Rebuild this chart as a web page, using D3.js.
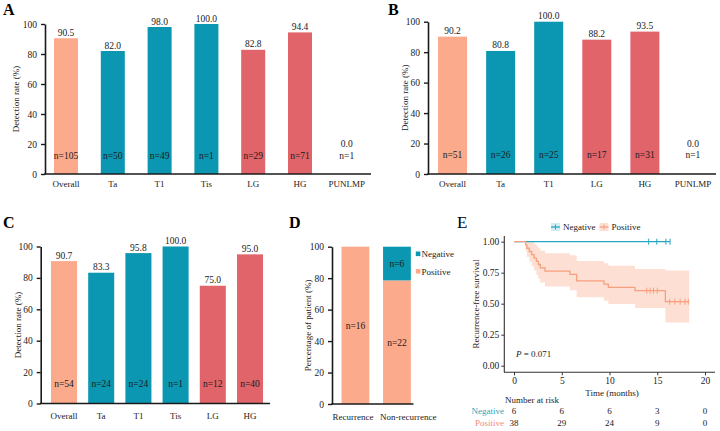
<!DOCTYPE html>
<html>
<head>
<meta charset="utf-8">
<script src="https://cdn.jsdelivr.net/npm/d3@7"></script>
<style>
  body { margin: 0; background: #fff; }
  svg { font-family: "Liberation Serif", "Times New Roman", serif; }
</style>
</head>
<body>
<svg id="fig" width="720" height="431"></svg>
<script>
// DATA
const catsA = ["Overall", "Ta", "T1", "Tis", "LG", "HG", "PUNLMP"];
const rateA = [90.5, 82.0, 98.0, 100.0, 82.8, 94.4, 0.0];
const nA = [105, 50, 49, 1, 29, 71, 1];

const catsB = ["Overall", "Ta", "T1", "LG", "HG", "PUNLMP"];
const rateB = [90.2, 80.8, 100.0, 88.2, 93.5, 0.0];
const nB = [51, 26, 25, 17, 31, 1];

const catsC = ["Overall", "Ta", "T1", "Tis", "LG", "HG"];
const rateC = [90.7, 83.3, 95.8, 100.0, 75.0, 95.0];
const nC = [54, 24, 24, 1, 12, 40];

const groupsD = ["Recurrence", "Non-recurrence"];
const posD = [16, 22];
const negD = [0, 6];

// KM, positive group
const kmTime = [0, 1.22, 1.35, 1.6, 1.85, 2.1, 2.35, 2.55, 2.75, 3.25, 5.86, 6.56, 9.42, 9.88, 12.67, 15.85];
const kmSurv = [1, 0.974, 0.947, 0.921, 0.895, 0.868, 0.842, 0.816, 0.789, 0.763, 0.737, 0.684, 0.658, 0.632, 0.605, 0.516];
const kmUpper = [1, 1, 1, 1, 0.998, 0.982, 0.966, 0.949, 0.93, 0.907, 0.891, 0.845, 0.827, 0.806, 0.779, 0.767];
const kmLower = [1, 0.924, 0.879, 0.839, 0.803, 0.767, 0.733, 0.702, 0.67, 0.638, 0.609, 0.553, 0.523, 0.497, 0.465, 0.348];
const kmEnd = 18.35;
const posCensor = [13.9, 14.25, 14.6, 15.0, 16.3, 16.85, 17.4, 17.9, 18.25];
const negEnd = 16.34;
const negCensor = [14.1, 14.95, 15.9, 16.34];

const riskTimes = [0, 5, 10, 15, 20];
const riskNeg = [6, 6, 6, 3, 0];
const riskPos = [38, 29, 24, 9, 0];

// COLOURS
const peach = "#FBAA8C", teal = "#0B97B1", red = "#E0646A";
const catColor = { Overall: peach, Ta: teal, T1: teal, Tis: teal, LG: red, HG: red, PUNLMP: red };
const kmTeal = "#27A7BE", kmSalmon = "#F6A07F", kmBand = "#FDDFD3";
const ink = "#1a1a1a";

const svg = d3.select("#fig");

function letter(txt, x, y, bold) {
  svg.append("text").attr("x", x).attr("y", y)
    .attr("font-size", bold ? 16 : 17)
    .attr("font-weight", bold ? "bold" : "normal")
    .attr("fill", "#000").text(txt);
}

// BAR PANEL (A, B, C)
function barPanel(o) {
  const y = d3.scaleLinear().domain([0, 100]).range([o.yBot, o.yTop]);
  const x = d3.scaleBand().domain(o.cats).range([o.bandL, o.bandR])
    .paddingInner(o.pad).paddingOuter(o.pad / 2);
  const g = svg.append("g");

  g.selectAll("rect.bar").data(o.cats).enter().append("rect")
    .attr("x", (d) => x(d))
    .attr("width", x.bandwidth())
    .attr("y", (d, i) => y(o.vals[i]))
    .attr("height", (d, i) => o.yBot - y(o.vals[i]))
    .attr("fill", (d) => catColor[d]);

  // value labels
  g.selectAll("text.val").data(o.cats).enter().append("text")
    .attr("x", (d) => x(d) + x.bandwidth() / 2)
    .attr("y", (d, i) => o.vals[i] > 0 ? y(o.vals[i]) - 2.5 : y(12.5) - 7.8)
    .attr("text-anchor", "middle").attr("font-size", 9.5).attr("fill", ink)
    .text((d, i) => o.vals[i].toFixed(1));

  // n labels
  g.selectAll("text.n").data(o.cats).enter().append("text")
    .attr("x", (d) => x(d) + x.bandwidth() / 2)
    .attr("y", y(12.5) + 3.3)
    .attr("text-anchor", "middle").attr("font-size", 9.5).attr("fill", ink)
    .text((d, i) => "n=" + o.ns[i]);

  // y axis
  const yAxis = d3.axisLeft(y).tickValues([0, 20, 40, 60, 80, 100])
    .tickSize(4).tickSizeOuter(0).tickPadding(4);
  const ya = g.append("g").attr("transform", "translate(" + o.x0 + ",0)").call(yAxis);
  ya.select(".domain").attr("stroke", ink).attr("stroke-width", 1.6);
  ya.selectAll(".tick line").attr("stroke", ink).attr("stroke-width", 1.4);
  ya.selectAll(".tick text").attr("font-size", 9.5).attr("fill", ink)
    .attr("font-family", "Liberation Serif");

  // x axis
  g.append("line").attr("x1", o.x0 - 0.8).attr("x2", o.xEnd)
    .attr("y1", o.yBot).attr("y2", o.yBot)
    .attr("stroke", ink).attr("stroke-width", 1.6);
  g.selectAll("text.cat").data(o.cats).enter().append("text")
    .attr("x", (d) => x(d) + x.bandwidth() / 2)
    .attr("y", o.yBot + o.labOff)
    .attr("text-anchor", "middle").attr("font-size", 9).attr("fill", ink)
    .text((d) => d);

  g.append("text")
    .attr("transform", "translate(" + o.titleX + "," + (o.yTop + o.yBot) / 2 + ") rotate(-90)")
    .attr("text-anchor", "middle").attr("font-size", 9).attr("fill", ink)
    .text(o.title);
}

barPanel({ cats: catsA, vals: rateA, ns: nA, x0: 45, xEnd: 371, yTop: 24, yBot: 174,
  bandL: 42.6, bandR: 370.2, pad: 0.487, labOff: 13, titleX: 19, title: "Detection rate (%)" });
barPanel({ cats: catsB, vals: rateB, ns: nB, x0: 428, xEnd: 716, yTop: 21.7, yBot: 174,
  bandL: 428.5, bandR: 717, pad: 0.397, labOff: 13, titleX: 408, title: "Detection rate (%)" });
barPanel({ cats: catsC, vals: rateC, ns: nC, x0: 40.7, xEnd: 270, yTop: 246.5, yBot: 403.5,
  bandL: 45.4, bandR: 268.6, pad: 0.30, labOff: 15, titleX: 21, title: "Detection rate (%)" });

letter("A", 3, 15, true);
letter("B", 388, 15, true);
letter("C", 3, 228, true);
letter("D", 289, 228, true);
letter("E", 457, 228, false);

// PANEL D - stacked percentage bars
(function () {
  const x0 = 332, yTop = 246.7, yBot = 404;
  const y = d3.scaleLinear().domain([0, 100]).range([yBot, yTop]);
  const x = d3.scaleBand().domain(groupsD).range([334.7, 417.7]).paddingInner(0.33).paddingOuter(0.165);
  const pct = groupsD.map((gname, i) => {
    const tot = posD[i] + negD[i];
    return { g: gname, pos: posD[i] / tot * 100, neg: negD[i] / tot * 100, np: posD[i], nn: negD[i] };
  });
  const g = svg.append("g");
  g.selectAll("rect.p").data(pct).enter().append("rect")
    .attr("x", (d) => x(d.g)).attr("width", x.bandwidth())
    .attr("y", (d) => y(d.pos)).attr("height", (d) => yBot - y(d.pos))
    .attr("fill", peach);
  g.selectAll("rect.ng").data(pct.filter((d) => d.neg > 0)).enter().append("rect")
    .attr("x", (d) => x(d.g)).attr("width", x.bandwidth())
    .attr("y", (d) => y(100)).attr("height", (d) => y(d.pos) - y(100))
    .attr("fill", teal);
  g.selectAll("text.p").data(pct).enter().append("text")
    .attr("x", (d) => x(d.g) + x.bandwidth() / 2)
    .attr("y", (d) => y(d.pos / 2) + 3.3)
    .attr("text-anchor", "middle").attr("font-size", 9.5).attr("fill", ink)
    .text((d) => "n=" + d.np);
  g.selectAll("text.ng").data(pct.filter((d) => d.neg > 0)).enter().append("text")
    .attr("x", (d) => x(d.g) + x.bandwidth() / 2)
    .attr("y", (d) => y(d.pos + d.neg / 2) + 3.3)
    .attr("text-anchor", "middle").attr("font-size", 9.5).attr("fill", ink)
    .text((d) => "n=" + d.nn);

  const ya = g.append("g").attr("transform", "translate(" + x0 + ",0)")
    .call(d3.axisLeft(y).tickValues([0, 20, 40, 60, 80, 100]).tickSize(4).tickSizeOuter(0).tickPadding(4));
  ya.select(".domain").attr("stroke", ink).attr("stroke-width", 1.6);
  ya.selectAll(".tick line").attr("stroke", ink).attr("stroke-width", 1.4);
  ya.selectAll(".tick text").attr("font-size", 9.5).attr("fill", ink).attr("font-family", "Liberation Serif");

  g.append("line").attr("x1", x0 - 0.8).attr("x2", 413.5).attr("y1", yBot).attr("y2", yBot)
    .attr("stroke", ink).attr("stroke-width", 1.6);
  // category labels: left one anchored at its bar's left edge, right one beside it
  g.selectAll("text.cat").data(groupsD).enter().append("text")
    .attr("x", (d, i) => i === 0 ? x(d) - 9 : x(d) - 3)
    .attr("y", yBot + 15.5)
    .attr("text-anchor", "start").attr("font-size", 9).attr("fill", ink).text((d) => d);
  g.append("text")
    .attr("transform", "translate(311," + (yTop + yBot) / 2 + ") rotate(-90)")
    .attr("text-anchor", "middle").attr("font-size", 9).attr("fill", ink)
    .text("Percentage of patient (%)");

  // legend
  const leg = [["Negative", teal], ["Positive", peach]];
  leg.forEach((l, i) => {
    g.append("rect").attr("x", 415.8).attr("y", 251.5 + i * 17.5).attr("width", 4.6).attr("height", 4.6).attr("fill", l[1]);
    g.append("text").attr("x", 421.5).attr("y", 257 + i * 17.5).attr("font-size", 9).attr("fill", ink).text(l[0]);
  });
})();

// PANEL E - Kaplan-Meier
(function () {
  const x = d3.scaleLinear().domain([0, 20]).range([514, 705]);
  const y = d3.scaleLinear().domain([0, 1]).range([365.7, 241.7]);
  const g = svg.append("g");

  const pts = kmTime.map((t, i) => ({ t: t, s: kmSurv[i], lo: kmLower[i], hi: kmUpper[i] }));
  const last = pts[pts.length - 1];
  pts.push({ t: kmEnd, s: last.s, lo: last.lo, hi: last.hi });

  g.append("path").datum(pts)
    .attr("d", d3.area().curve(d3.curveStepAfter).x((d) => x(d.t)).y0((d) => y(d.lo)).y1((d) => y(d.hi)))
    .attr("fill", kmBand);

  // negative line
  g.append("path").datum([{ t: 0, s: 1 }, { t: negEnd, s: 1 }])
    .attr("d", d3.line().x((d) => x(d.t)).y((d) => y(d.s)))
    .attr("stroke", kmTeal).attr("stroke-width", 1.3).attr("fill", "none");
  g.selectAll("line.nc").data(negCensor).enter().append("line")
    .attr("x1", (d) => x(d)).attr("x2", (d) => x(d))
    .attr("y1", y(1) - 3).attr("y2", y(1) + 3)
    .attr("stroke", kmTeal).attr("stroke-width", 1);

  // positive line
  g.append("path").datum(pts)
    .attr("d", d3.line().curve(d3.curveStepAfter).x((d) => x(d.t)).y((d) => y(d.s)))
    .attr("stroke", kmSalmon).attr("stroke-width", 1.3).attr("fill", "none");
  const survAt = (t) => { let s = 1; kmTime.forEach((tt, i) => { if (tt <= t) s = kmSurv[i]; }); return s; };
  g.selectAll("line.pc").data(posCensor).enter().append("line")
    .attr("x1", (d) => x(d)).attr("x2", (d) => x(d))
    .attr("y1", (d) => y(survAt(d)) - 3).attr("y2", (d) => y(survAt(d)) + 3)
    .attr("stroke", kmSalmon).attr("stroke-width", 1);

  // axes
  const xa = g.append("g").attr("transform", "translate(0,372.3)")
    .call(d3.axisBottom(x).tickValues([0, 5, 10, 15, 20]).tickSize(3).tickSizeOuter(0).tickPadding(2));
  xa.select(".domain").attr("d", "M504,0H715").attr("stroke", "#333").attr("stroke-width", 1.1);
  xa.selectAll(".tick line").attr("stroke", "#333");
  xa.selectAll(".tick text").attr("font-size", 9.5).attr("fill", ink).attr("font-family", "Liberation Serif");

  const ya = g.append("g").attr("transform", "translate(504.3,0)")
    .call(d3.axisLeft(y).tickValues([0, 0.25, 0.5, 0.75, 1]).tickFormat(d3.format(".2f")).tickSize(3).tickSizeOuter(0).tickPadding(2));
  ya.select(".domain").attr("d", "M0,236H0V372.3").attr("stroke", "#333").attr("stroke-width", 1.1);
  ya.selectAll(".tick line").attr("stroke", "#333");
  ya.selectAll(".tick text").attr("font-size", 9.5).attr("fill", ink).attr("font-family", "Liberation Serif");

  g.append("text").attr("x", 612).attr("y", 396).attr("text-anchor", "middle")
    .attr("font-size", 9).attr("fill", ink).text("Time (months)");
  g.append("text").attr("transform", "translate(479,304) rotate(-90)").attr("text-anchor", "middle")
    .attr("font-size", 9).attr("fill", ink).text("Recurrence-free survival");

  const pt = g.append("text").attr("x", 516).attr("y", 356.5).attr("font-size", 9).attr("fill", ink);
  pt.append("tspan").attr("font-style", "italic").text("P");
  pt.append("tspan").text(" = 0.071");

  // legend
  const legE = [["Negative", kmTeal, "#cfeef3", 551], ["Positive", kmSalmon, kmBand, 599.5]];
  legE.forEach((l) => {
    g.append("rect").attr("x", l[3]).attr("y", 223).attr("width", 9).attr("height", 8).attr("fill", l[2]);
    g.append("line").attr("x1", l[3]).attr("x2", l[3] + 9).attr("y1", 227).attr("y2", 227)
      .attr("stroke", l[1]).attr("stroke-width", 1.3);
    g.append("line").attr("x1", l[3] + 4.5).attr("x2", l[3] + 4.5).attr("y1", 224.5).attr("y2", 229.5)
      .attr("stroke", l[1]).attr("stroke-width", 1);
    g.append("text").attr("x", l[3] + 12).attr("y", 230.3).attr("font-size", 9).attr("fill", ink).text(l[0]);
  });

  // number at risk table
  g.append("text").attr("x", 505).attr("y", 403).attr("font-size", 9).attr("fill", ink).text("Number at risk");
  const rows = [["Negative", riskNeg, kmTeal, 414], ["Positive", riskPos, "#F3877F", 426]];
  rows.forEach((r) => {
    g.append("text").attr("x", 504).attr("y", r[3]).attr("text-anchor", "end")
      .attr("font-size", 9).attr("fill", r[2]).text(r[0]);
    g.selectAll(null).data(r[1]).enter().append("text")
      .attr("x", (d, i) => x(riskTimes[i])).attr("y", r[3])
      .attr("text-anchor", "middle").attr("font-size", 9).attr("fill", ink).text((d) => d);
  });
})();
</script>
</body>
</html>
